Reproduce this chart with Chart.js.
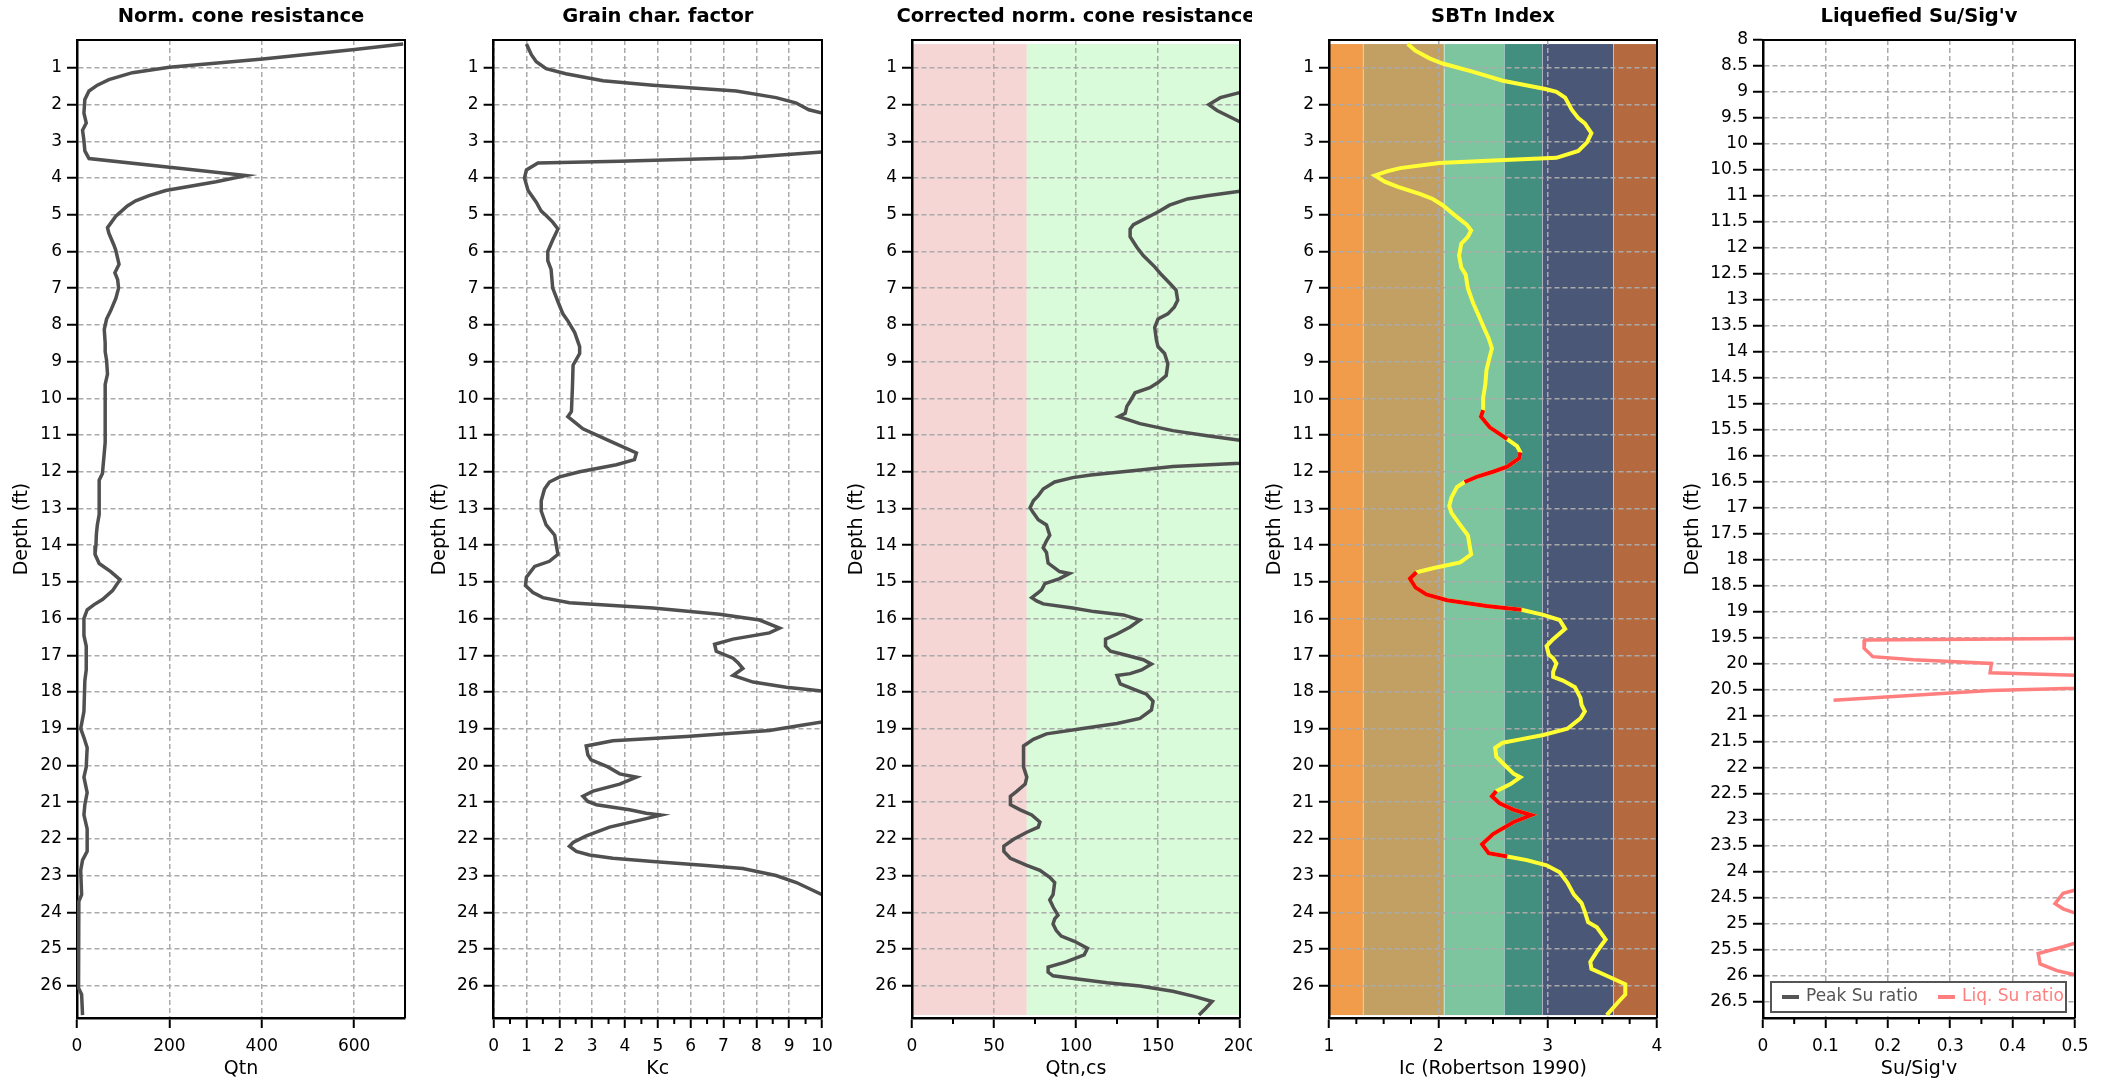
<!DOCTYPE html>
<html>
<head>
<meta charset="utf-8">
<title>CPT profiles</title>
<script src="https://cdn.jsdelivr.net/npm/chart.js@4.4.1/dist/chart.umd.min.js"></script>
<style>
  html, body { margin: 0; padding: 0; background: #fff; }
  body { width: 2109px; height: 1081px; position: relative; overflow: hidden; }
  canvas { position: absolute; top: 0; }
</style>
</head>
<body>
<canvas id="c1"></canvas>
<canvas id="c2"></canvas>
<canvas id="c3"></canvas>
<canvas id="c4"></canvas>
<canvas id="c5"></canvas>
<script>
// ---- tick labels ----
var depthTicks = [1, 2, 3, 4, 5, 6, 7, 8, 9, 10, 11, 12, 13, 14, 15, 16, 17, 18, 19, 20, 21, 22, 23, 24, 25, 26];
var suDepthTicks = [8, 8.5, 9, 9.5, 10, 10.5, 11, 11.5, 12, 12.5, 13, 13.5, 14, 14.5, 15, 15.5, 16, 16.5,
  17, 17.5, 18, 18.5, 19, 19.5, 20, 20.5, 21, 21.5, 22, 22.5, 23, 23.5, 24, 24.5, 25, 25.5, 26, 26.5];
var qtnTicks = [0, 200, 400, 600];
var kcTicks = [0, 1, 2, 3, 4, 5, 6, 7, 8, 9, 10];
var qcsTicks = [0, 50, 100, 150, 200];
var icTicks = [1, 2, 3, 4];
var suTicks = [0, 0.1, 0.2, 0.3, 0.4, 0.5];

// ---- Norm. cone resistance ----
var qtnDepth = [0.35, 0.5, 0.76, 0.98, 1.13, 1.32, 1.47, 1.63, 1.86, 2.23, 2.5, 2.7, 2.98, 3.26, 3.47, 3.93,
  4.1, 4.34, 4.48, 4.62, 4.76, 5.04, 5.35, 5.5, 5.83, 5.97, 6.35, 6.58, 6.77, 7.0, 7.28, 7.61, 7.84, 8.12,
  8.5, 8.73, 8.96, 9.34, 9.62, 10.36, 11.2, 11.49, 12.05, 12.23, 13.17, 13.45, 13.7, 14.0, 14.25, 14.5,
  14.72, 14.94, 15.24, 15.48, 15.62, 15.76, 16.0, 16.46, 16.75, 17.4, 17.69, 18.53, 19.0, 19.24, 19.52,
  20.04, 20.32, 20.74, 21.07, 21.35, 21.73, 22.34, 22.58, 22.86, 23.52, 23.7, 24.18, 25.1, 26.06, 26.24, 26.8];
var qtnValue = [706, 601, 402, 200, 120, 69, 44, 26, 17, 15, 20, 12, 15, 17, 26, 366,
  301, 192, 156, 127, 109, 84, 66, 69, 80, 84, 91, 82, 88, 90, 84, 73, 64, 59,
  61, 61, 64, 66, 61, 61, 61, 59, 55, 48, 48, 44, 42, 41, 39, 48,
  73, 93, 77, 55, 37, 22, 15, 15, 20, 20, 17, 15, 8, 15, 22,
  20, 15, 22, 17, 15, 22, 22, 12, 8, 10, 4, 3, 3, 4, 10, 12];

// ---- Grain char. factor ----
var kcDepth = [0.35, 0.64, 0.83, 1.02, 1.16, 1.35, 1.47, 1.63, 1.81, 1.95, 2.14, 2.23, 2.7, 3.0, 3.29, 3.45,
  3.54, 3.59, 3.78, 4.0, 4.34, 4.66, 4.9, 5.02, 5.2, 5.39, 5.69, 6.0, 6.25, 6.49, 7.0, 7.37, 7.7, 7.89,
  8.21, 8.59, 8.78, 9.1, 9.71, 10.36, 10.5, 10.83, 11.2, 11.49, 11.67, 11.81, 12.0, 12.14, 12.28, 12.47,
  12.79, 13.07, 13.45, 13.73, 14.0, 14.25, 14.44, 14.58, 14.87, 15.1, 15.29, 15.43, 15.57, 15.71, 15.88,
  16.04, 16.26, 16.39, 16.56, 16.7, 16.89, 17.08, 17.2, 17.36, 17.55, 17.73, 17.87, 17.97, 18.4, 18.82,
  18.96, 19.05, 19.21, 19.33, 19.47, 19.71, 19.85, 20.04, 20.23, 20.32, 20.51, 20.7, 20.84, 20.98, 21.07,
  21.21, 21.3, 21.35, 21.45, 21.68, 21.92, 22.1, 22.2, 22.34, 22.44, 22.53, 22.62, 22.72, 22.81, 23.0,
  23.19, 23.52, 24.5, 25.5, 26.8];
var kcValue = [1.0, 1.15, 1.3, 1.6, 2.2, 3.33, 4.85, 7.39, 8.6, 9.2, 9.6, 10.0, 16, 15, 10.0, 7.6,
  3.84, 1.35, 1.0, 0.94, 1.05, 1.3, 1.45, 1.6, 1.8, 1.96, 1.8, 1.65, 1.65, 1.75, 1.8, 1.96, 2.11, 2.26,
  2.47, 2.62, 2.62, 2.42, 2.4, 2.37, 2.26, 2.72, 3.63, 4.35, 4.29, 3.74, 2.62, 2.01, 1.7, 1.55,
  1.45, 1.45, 1.6, 1.86, 1.91, 1.96, 1.7, 1.25, 1.0, 0.97, 1.2, 1.5, 2.31, 4.85, 6.88,
  8.1, 8.71, 8.4, 7.29, 6.73, 6.78, 7.29, 7.44, 7.59, 7.29, 7.9, 8.91, 10.0, 14, 10.0,
  9.0, 8.4, 5.87, 3.63, 2.82, 2.87, 2.97, 3.48, 3.84, 4.35, 3.84, 3.03, 2.72, 2.87, 3.13,
  4.14, 4.65, 5.1, 4.65, 3.53, 2.82, 2.42, 2.31, 2.52, 2.92, 3.63, 4.85, 6.38, 7.59, 8.6,
  9.22, 10.0, 14, 15, 13];

// ---- Corrected norm. cone resistance ----
var qcsDepth = [0.35, 1.0, 1.4, 1.81, 2.0, 2.16, 2.47, 3.0, 4.0, 4.36, 4.48, 4.57, 4.74, 4.9, 5.04, 5.27,
  5.39, 5.6, 5.88, 6.11, 6.42, 6.63, 6.86, 7.05, 7.33, 7.51, 7.7, 7.84, 8.07, 8.4, 8.59, 8.78, 9.06, 9.38,
  9.57, 9.71, 9.85, 10.08, 10.22, 10.41, 10.5, 10.69, 10.88, 11.02, 11.14, 11.45, 11.77, 11.86, 11.95,
  12.09, 12.16, 12.28, 12.47, 12.65, 12.79, 12.98, 13.12, 13.31, 13.45, 13.73, 13.88, 14.07, 14.2, 14.49,
  14.72, 14.77, 14.91, 15.05, 15.22, 15.29, 15.43, 15.52, 15.6, 15.71, 15.81, 15.9, 16.04, 16.23, 16.42,
  16.56, 16.75, 16.89, 16.98, 17.12, 17.24, 17.4, 17.5, 17.55, 17.78, 17.92, 18.06, 18.25, 18.49, 18.72,
  18.86, 19.0, 19.14, 19.29, 19.47, 19.71, 20.04, 20.32, 20.51, 20.7, 20.84, 21.07, 21.21, 21.35, 21.54,
  21.68, 21.82, 22.01, 22.2, 22.34, 22.53, 22.72, 22.86, 23.05, 23.19, 23.52, 23.66, 23.85, 24.08, 24.18,
  24.32, 24.5, 24.65, 24.79, 24.98, 25.16, 25.35, 25.49, 25.63, 25.73, 25.82, 25.92, 26.01, 26.15, 26.29,
  26.43, 26.62, 26.8];
var qcsValue = [700, 300, 223, 188, 181, 186, 200, 280, 260, 200, 180, 168, 157, 151, 145, 135,
  133, 133, 137, 141, 148, 152, 157, 161, 162, 160, 156, 150, 148, 149, 150, 154, 156, 155,
  150, 145, 136, 133, 131, 130, 126, 139, 159, 180, 200, 260, 200, 159, 139,
  109, 98, 87, 80, 77, 74, 72, 74, 77, 82, 84, 82, 80, 82, 83,
  90, 96, 90, 81, 79, 77, 73, 76, 80, 98, 111, 129, 139, 133, 125,
  118, 118, 121, 129, 141, 146, 140, 133, 125, 127, 135, 143, 147, 146, 139,
  125, 103, 82, 74, 68, 68, 68, 70, 69, 64, 60, 60, 66, 73, 78,
  77, 70, 62, 56, 56, 60, 70, 78, 84, 87, 86, 84, 86, 89, 87,
  86, 88, 91, 99, 107, 105, 94, 83, 83, 86, 101, 119, 139, 159, 172,
  183, 179, 175];
var qcsZoneEdges = [0, 70, 200];
var qcsZoneColors = ['#f6d5d5', '#d9fbd9'];

// ---- SBTn Index (1 = liquefiable stretch, drawn red) ----
var icDepth = [0.35, 0.53, 0.74, 0.88, 1.11, 1.35, 1.58, 1.65, 1.81, 2.14, 2.37, 2.51, 2.78, 3.03, 3.26,
  3.45, 3.52, 3.59, 3.73, 3.82, 3.93, 4.1, 4.24, 4.43, 4.57, 4.74, 4.99, 5.27, 5.43, 5.6, 5.79, 6.11,
  6.44, 6.63, 7.0, 7.42, 7.75, 8.03, 8.36, 8.64, 8.87, 9.24, 9.62, 9.99, 10.32, 10.5, 10.79, 10.97,
  11.11, 11.3, 11.47, 11.63, 11.86, 12.0, 12.14, 12.28, 12.42, 12.7, 12.93, 13.12, 13.45, 13.73, 14.25,
  14.47, 14.63, 14.74, 14.91, 15.15, 15.34, 15.5, 15.66, 15.76, 15.9, 16.04, 16.28, 16.56, 16.75, 16.98,
  17.08, 17.22, 17.45, 17.59, 17.69, 17.87, 18.16, 18.35, 18.53, 18.72, 19.0, 19.17, 19.29, 19.38, 19.52,
  19.76, 19.94, 20.23, 20.32, 20.51, 20.7, 20.84, 21.03, 21.21, 21.35, 21.54, 21.87, 22.15, 22.39, 22.48,
  22.58, 22.72, 22.91, 23.19, 23.52, 23.75, 23.99, 24.27, 24.41, 24.74, 25.07, 25.35, 25.54, 25.77,
  25.96, 26.24, 26.43, 26.8];
var icValue = [1.72, 1.79, 1.92, 2.04, 2.32, 2.59, 2.99, 3.08, 3.16, 3.22, 3.28, 3.34, 3.4, 3.36, 3.28,
  3.08, 2.5, 2.01, 1.65, 1.53, 1.42, 1.51, 1.63, 1.83, 1.95, 2.04, 2.14, 2.26, 2.3, 2.27, 2.21, 2.19,
  2.21, 2.25, 2.27, 2.32, 2.37, 2.41, 2.46, 2.49, 2.47, 2.44, 2.43, 2.41, 2.41, 2.39, 2.47, 2.56,
  2.63, 2.72, 2.75, 2.74, 2.63, 2.5, 2.35, 2.24, 2.17, 2.12, 2.1, 2.12, 2.2, 2.27, 2.3,
  2.2, 1.95, 1.8, 1.74, 1.79, 1.89, 2.08, 2.44, 2.76, 2.96, 3.11, 3.16, 3.05, 2.99, 3.01,
  3.05, 3.08, 3.05, 3.05, 3.14, 3.25, 3.3, 3.31, 3.34, 3.3, 3.18, 2.96, 2.75, 2.59, 2.52,
  2.53, 2.59, 2.69, 2.75, 2.66, 2.53, 2.49, 2.56, 2.69, 2.85, 2.69, 2.5, 2.4, 2.46, 2.63,
  2.81, 2.99, 3.11, 3.18, 3.24, 3.31, 3.34, 3.37, 3.45, 3.53, 3.45, 3.39, 3.4, 3.57,
  3.71, 3.71, 3.65, 3.54];
var icLiq = [0, 0, 0, 0, 0, 0, 0, 0, 0, 0, 0, 0, 0, 0, 0,
  0, 0, 0, 0, 0, 0, 0, 0, 0, 0, 0, 0, 0, 0, 0, 0, 0,
  0, 0, 0, 0, 0, 0, 0, 0, 0, 0, 0, 0, 1, 1, 1, 1,
  1, 0, 1, 1, 1, 1, 1, 1, 0, 0, 0, 0, 0, 0, 0,
  0, 0, 1, 1, 1, 1, 1, 1, 1, 0, 0, 0, 0, 0, 0,
  0, 0, 0, 0, 0, 0, 0, 0, 0, 0, 0, 0, 0, 0, 0,
  0, 0, 0, 0, 0, 1, 1, 1, 1, 1, 1, 1, 1, 1, 1,
  0, 0, 0, 0, 0, 0, 0, 0, 0, 0, 0, 0, 0, 0,
  0, 0, 0, 0];
var icZoneEdges = [1, 1.31, 2.05, 2.6, 2.95, 3.6, 4];
var icZoneColors = ['#f09c4b', '#c2a064', '#7cc59f', '#428f80', '#4a5777', '#b5693f'];

// ---- Liquefied Su/Sig'v (null = no value) ----
var liqDepth = [19.45, 19.54, 19.7, 19.86, 19.92, 19.99, 20.17, 20.3, 20.4, 20.51, 20.7, 22.0,
  24.25, 24.41, 24.61, 24.71, 24.9, 25.1, 25.3, 25.44, 25.57, 25.77, 25.9, 26.05];
var liqValue = [1.2, 0.163, 0.162, 0.176, 0.241, 0.366, 0.364, 0.72, 0.74, 0.364, 0.113, null,
  0.532, 0.481, 0.468, 0.481, 0.526, 0.6, 0.519, 0.481, 0.441, 0.444, 0.471, 0.525];
var peakDepth = [];
var peakValue = [];

var FONT = "'DejaVu Sans', Verdana, sans-serif";
var LINE = '#505050';
Chart.defaults.font.family = FONT;

function pts(depth, vals) {
  return depth.map(function (d, i) { return { x: vals[i], y: d }; });
}

function titlePlugin(text) {
  return {
    id: 'panelTitle',
    afterDraw: function (chart) {
      var a = chart.chartArea, ctx = chart.ctx;
      ctx.save();
      ctx.font = 'bold 19.5px ' + FONT;
      ctx.fillStyle = '#000';
      ctx.textAlign = 'center';
      ctx.textBaseline = 'middle';
      ctx.fillText(text, (a.left + a.right) / 2, 17);
      ctx.restore();
    }
  };
}

function bandsPlugin(edges, colors, from, to) {
  return {
    id: 'bands',
    beforeDraw: function (chart) {
      var x = chart.scales.x, y = chart.scales.y, ctx = chart.ctx;
      var top = y.getPixelForValue(from), bottom = y.getPixelForValue(to);
      ctx.save();
      for (var i = 0; i < colors.length; i++) {
        var x0 = x.getPixelForValue(edges[i]), x1 = x.getPixelForValue(edges[i + 1]);
        ctx.fillStyle = colors[i];
        ctx.fillRect(x0, top, x1 - x0, bottom - top);
      }
      if (colors.length > 2) {
        ctx.strokeStyle = 'rgba(255,255,255,0.45)';
        ctx.lineWidth = 1;
        for (var j = 1; j < edges.length - 1; j++) {
          var px = Math.round(x.getPixelForValue(edges[j])) + 0.5;
          ctx.beginPath(); ctx.moveTo(px, top); ctx.lineTo(px, bottom); ctx.stroke();
        }
      }
      ctx.restore();
    }
  };
}

function framePlugin(minorStep, majors) {
  return {
    id: 'frame',
    afterDraw: function (chart) {
      var a = chart.chartArea, ctx = chart.ctx, x = chart.scales.x;
      ctx.save();
      ctx.strokeStyle = '#000';
      ctx.lineWidth = 2;
      ctx.beginPath();
      ctx.moveTo(a.left, a.top); ctx.lineTo(a.right, a.top); ctx.lineTo(a.right, a.bottom);
      ctx.stroke();
      if (minorStep) {
        var n = Math.round((x.max - x.min) / minorStep);
        for (var k = 0; k <= n; k++) {
          var v = x.min + k * minorStep;
          var isMajor = majors.some(function (m) { return Math.abs(m - v) < minorStep / 10; });
          if (isMajor) continue;
          var px = x.getPixelForValue(v);
          ctx.beginPath(); ctx.moveTo(px, a.bottom); ctx.lineTo(px, a.bottom + 6); ctx.stroke();
        }
      }
      ctx.restore();
    }
  };
}

// boxed legend sitting inside the bottom of the plot
var boxLegend = {
  id: 'boxLegend',
  afterDraw: function (chart) {
    var a = chart.chartArea, ctx = chart.ctx;
    var left = a.left + 8, right = a.right - 9, bottom = a.bottom - 6, top = bottom - 30;
    ctx.save();
    ctx.fillStyle = '#fff';
    ctx.fillRect(left, top, right - left, bottom - top);
    ctx.strokeStyle = '#555';
    ctx.lineWidth = 2;
    ctx.strokeRect(left, top, right - left, bottom - top);
    ctx.font = '17px ' + FONT;
    ctx.textBaseline = 'middle';
    var cy = (top + bottom) / 2, cx = left + 11;
    chart.data.datasets.forEach(function (ds) {
      if (!ds.legend) return;
      ctx.strokeStyle = ds.borderColor;
      ctx.lineWidth = 4;
      ctx.beginPath(); ctx.moveTo(cx, cy); ctx.lineTo(cx + 17, cy); ctx.stroke();
      ctx.fillStyle = ds.borderColor;
      ctx.fillText(ds.label, cx + 24, cy);
      cx += 24 + ctx.measureText(ds.label).width + 20;
    });
    ctx.restore();
  }
};

function makePanel(p) {
  var el = document.getElementById(p.id);
  var yW = p.plotLeft - p.left;
  var w = Math.round(yW + p.plotWidth + p.rightPad);
  el.width = w;
  el.height = 1081;
  el.style.left = p.left + 'px';
  var plugins = [titlePlugin(p.title), framePlugin(p.minor, p.xTicks)];
  if (p.bands) plugins.push(p.bands);
  if (p.legend) plugins.push(boxLegend);
  return new Chart(el, {
    type: 'line',
    data: { datasets: p.datasets },
    options: {
      responsive: false,
      animation: false,
      indexAxis: 'y',
      events: [],
      layout: { padding: { top: 40, right: w - yW - p.plotWidth, left: 0, bottom: 0 } },
      elements: { point: { radius: 0 }, line: { borderWidth: 3.5, tension: 0 } },
      plugins: { legend: { display: false }, tooltip: { enabled: false } },
      scales: {
        x: {
          type: 'linear', position: 'bottom', min: p.xMin, max: p.xMax,
          afterBuildTicks: function (s) { s.ticks = p.xTicks.map(function (v) { return { value: v }; }); },
          afterFit: function (s) { s.height = 63; s.paddingLeft = 0; s.paddingRight = 0; },
          ticks: { autoSkip: false, maxRotation: 0, padding: 8, color: '#000', font: { size: 17 },
            callback: function (v) { return String(v); } },
          grid: { color: '#aaaaaa', lineWidth: 1.5, tickLength: 10, tickColor: '#000', tickWidth: 2 },
          border: { color: '#000', width: 2.5, dash: [5, 3] },
          title: { display: true, text: p.xTitle, color: '#000', font: { size: 19 }, padding: { top: 0, bottom: 1 } }
        },
        y: {
          type: 'linear', reverse: true, min: p.yMin, max: p.yMax,
          afterBuildTicks: function (s) { s.ticks = p.yTicks.map(function (v) { return { value: v }; }); },
          afterFit: function (s) { s.width = yW; s.paddingTop = 0; s.paddingBottom = 0; },
          ticks: { autoSkip: false, padding: 5, color: '#000', font: { size: 17 },
            callback: function (v) { return String(v); } },
          grid: { color: '#aaaaaa', lineWidth: 1.5, tickLength: 10, tickColor: '#000', tickWidth: 2 },
          border: { color: '#000', width: 2.5, dash: [5, 3] },
          title: { display: true, text: 'Depth (ft)', color: '#000', font: { size: 19 }, padding: { top: 4, bottom: 0 } }
        }
      }
    },
    plugins: plugins
  });
}

makePanel({
  id: 'c1', left: 7, plotLeft: 77, plotWidth: 328, rightPad: 17,
  title: 'Norm. cone resistance', xTitle: 'Qtn',
  xMin: 0, xMax: 710, xTicks: qtnTicks, minor: 0,
  yMin: 0.24, yMax: 26.88, yTicks: depthTicks,
  datasets: [{ label: 'Qtn', data: pts(qtnDepth, qtnValue), borderColor: LINE }]
});

makePanel({
  id: 'c2', left: 425, plotLeft: 493.6, plotWidth: 328.4, rightPad: 16,
  title: 'Grain char. factor', xTitle: 'Kc',
  xMin: 0, xMax: 10, xTicks: kcTicks, minor: 0.5,
  yMin: 0.24, yMax: 26.88, yTicks: depthTicks,
  datasets: [{ label: 'Kc', data: pts(kcDepth, kcValue), borderColor: LINE }]
});

makePanel({
  id: 'c3', left: 842, plotLeft: 912, plotWidth: 328, rightPad: 12,
  title: 'Corrected norm. cone resistance', xTitle: 'Qtn,cs',
  xMin: 0, xMax: 200, xTicks: qcsTicks, minor: 25,
  yMin: 0.24, yMax: 26.88, yTicks: depthTicks,
  bands: bandsPlugin(qcsZoneEdges, qcsZoneColors, qcsDepth[0], qcsDepth[qcsDepth.length - 1]),
  datasets: [{ label: 'Qtn,cs', data: pts(qcsDepth, qcsValue), borderColor: LINE }]
});

makePanel({
  id: 'c4', left: 1260, plotLeft: 1329, plotWidth: 328, rightPad: 16,
  title: 'SBTn Index', xTitle: 'Ic (Robertson 1990)',
  xMin: 1, xMax: 4, xTicks: icTicks, minor: 0.25,
  yMin: 0.24, yMax: 26.88, yTicks: depthTicks,
  bands: bandsPlugin(icZoneEdges, icZoneColors, icDepth[0], icDepth[icDepth.length - 1]),
  datasets: [
    { label: 'Liquefiable', borderColor: '#ff0000', borderWidth: 4,
      data: icDepth.map(function (d, i) { return { x: icLiq[i] ? icValue[i] : null, y: d }; }) },
    { label: 'Ic', borderColor: '#ffff33', borderWidth: 4, data: pts(icDepth, icValue) }
  ]
});

makePanel({
  id: 'c5', left: 1678, plotLeft: 1763, plotWidth: 312, rightPad: 28,
  title: "Liquefied Su/Sig'v", xTitle: "Su/Sig'v",
  xMin: 0, xMax: 0.5, xTicks: suTicks, minor: 0.05,
  yMin: 8, yMax: 26.81, yTicks: suDepthTicks,
  legend: true,
  datasets: [
    { label: 'Peak Su ratio', legend: true, borderColor: '#555555', data: pts(peakDepth, peakValue) },
    { label: 'Liq. Su ratio', legend: true, borderColor: '#ff7f7f', data: pts(liqDepth, liqValue) }
  ]
});
</script>
</body>
</html>
